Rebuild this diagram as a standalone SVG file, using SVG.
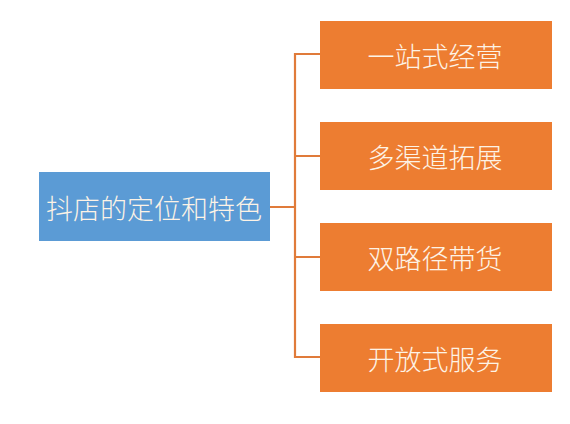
<svg xmlns="http://www.w3.org/2000/svg" width="570" height="424" viewBox="0 0 570 424">
<style>
.o{fill:#ed7d31}
.b{fill:#5b9bd5}
.t{font-family:"Noto Sans CJK SC","Noto Sans CJK JP",sans-serif;font-weight:300;font-size:27px;fill:#fdf3e6;text-anchor:middle;dominant-baseline:central}
.c{fill:none;stroke:#e07b3a;stroke-width:2.2}
</style>
<rect width="570" height="424" fill="#ffffff"/>
<g id="connectors">
<path class="c" d="M270,207 H295 M320,54 H295 V357 H320 M295,156 H320 M295,257 H320"/>
</g>
<g id="root">
<rect class="b" x="39" y="172" width="231" height="69"/>
<text class="t" x="154" y="207">抖店的定位和特色</text>
</g>
<g id="n1">
<rect class="o" x="320" y="21" width="232" height="68"/>
<text class="t" x="435" y="55">一站式经营</text>
</g>
<g id="n2">
<rect class="o" x="320" y="122" width="232" height="68"/>
<text class="t" x="435" y="156">多渠道拓展</text>
</g>
<g id="n3">
<rect class="o" x="320" y="223" width="232" height="68"/>
<text class="t" x="435" y="257">双路径带货</text>
</g>
<g id="n4">
<rect class="o" x="320" y="324" width="232" height="68"/>
<text class="t" x="435" y="358">开放式服务</text>
</g>
</svg>
